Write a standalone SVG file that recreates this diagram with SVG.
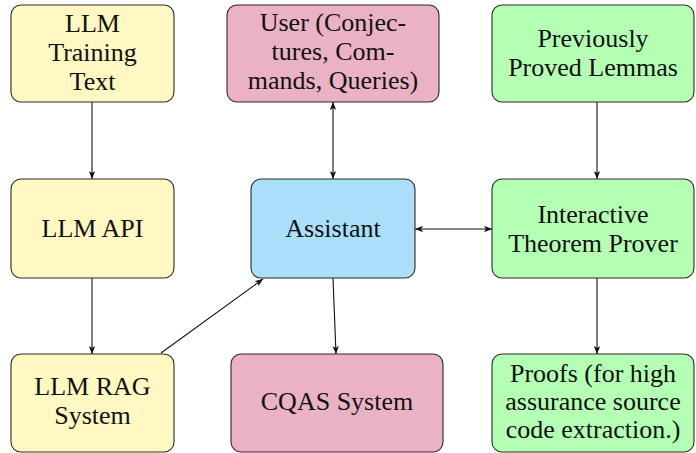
<svg xmlns="http://www.w3.org/2000/svg" width="696" height="453" viewBox="0 0 696 453">
<style>
.box{stroke:#2b2b2b;stroke-width:1.1}
.y{fill:#FFF8C2}
.p{fill:#EBB1C5}
.b{fill:#A9DFF9}
.g{fill:#B4FFB4}
.t{font-family:'Liberation Serif',serif;font-size:26px;fill:#111;text-anchor:middle}
.c{stroke:#111;stroke-width:1.1;fill:none;marker-end:url(#ah)}
.d{marker-start:url(#ahs)}
</style>
<defs>
<marker id="ah" viewBox="0 0 10 8" refX="10" refY="4" markerWidth="8" markerHeight="6.4" markerUnits="userSpaceOnUse" orient="auto">
<path d="M0,0 L10,4 L0,8 L2.5,4 Z" fill="#111"/>
</marker>
<marker id="ahs" viewBox="0 0 10 8" refX="0" refY="4" markerWidth="8" markerHeight="6.4" markerUnits="userSpaceOnUse" orient="auto">
<path d="M10,0 L0,4 L10,8 L7.5,4 Z" fill="#111"/>
</marker>
</defs>
<g id="connectors">
<line class="c" x1="92" y1="102" x2="92" y2="179"/>
<line class="c" x1="92" y1="278" x2="92" y2="354"/>
<line class="c" x1="161" y1="353" x2="263" y2="279"/>
<line class="c" x1="333" y1="278" x2="336" y2="354"/>
<line class="c d" x1="333" y1="102" x2="333" y2="179"/>
<line class="c d" x1="415" y1="229" x2="492" y2="229"/>
<line class="c" x1="597" y1="102" x2="597" y2="179"/>
<line class="c" x1="597" y1="278" x2="597" y2="354"/>
</g>
<g id="llm-training-text">
<rect class="box y" x="11" y="5" width="163" height="97" rx="10"/>
<text class="t" x="92.5" y="32">LLM</text>
<text class="t" x="92.5" y="61">Training</text>
<text class="t" x="92.5" y="90">Text</text>
</g>
<g id="user">
<rect class="box p" x="227" y="5" width="212" height="97" rx="10"/>
<text class="t" x="333" y="31">User (Conjec-</text>
<text class="t" x="333" y="60">tures, Com-</text>
<text class="t" x="333" y="89">mands, Queries)</text>
</g>
<g id="previously-proved-lemmas">
<rect class="box g" x="492" y="5" width="202" height="97" rx="10"/>
<text class="t" x="593" y="47">Previously</text>
<text class="t" x="593" y="76">Proved Lemmas</text>
</g>
<g id="llm-api">
<rect class="box y" x="11" y="179" width="163" height="99" rx="10"/>
<text class="t" x="92.5" y="237">LLM API</text>
</g>
<g id="assistant">
<rect class="box b" x="251" y="179" width="164" height="99" rx="10"/>
<text class="t" x="333" y="237">Assistant</text>
</g>
<g id="interactive-theorem-prover">
<rect class="box g" x="492" y="179" width="202" height="99" rx="10"/>
<text class="t" x="593" y="223">Interactive</text>
<text class="t" x="593" y="252">Theorem Prover</text>
</g>
<g id="llm-rag-system">
<rect class="box y" x="11" y="354" width="163" height="98" rx="10"/>
<text class="t" x="92.5" y="395">LLM RAG</text>
<text class="t" x="92.5" y="424">System</text>
</g>
<g id="cqas-system">
<rect class="box p" x="231" y="354" width="212" height="98" rx="10"/>
<text class="t" x="337" y="410">CQAS System</text>
</g>
<g id="proofs">
<rect class="box g" x="492" y="354" width="202" height="98" rx="10"/>
<text class="t" x="593" y="382">Proofs (for high</text>
<text class="t" x="593" y="410">assurance source</text>
<text class="t" x="593" y="438">code extraction.)</text>
</g>
</svg>
